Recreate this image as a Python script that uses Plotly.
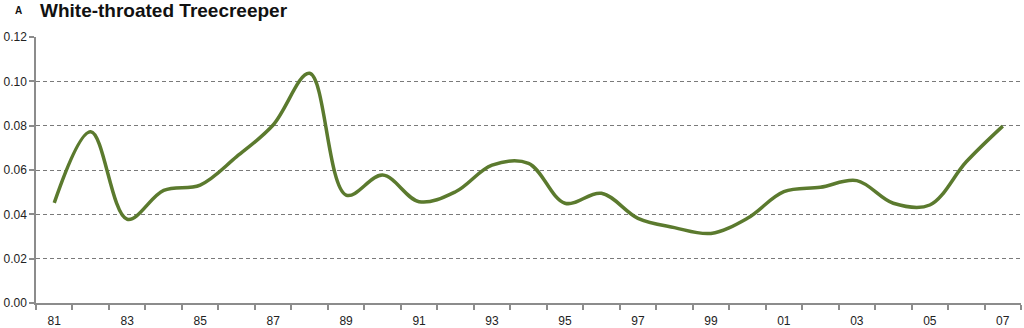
import plotly.graph_objects as go

years = ["81", "82", "83", "84", "85", "86", "87", "88", "89", "90", "91", "92", "93", "94",
         "95", "96", "97", "98", "99", "00", "01", "02", "03", "04", "05", "06", "07"]
values = [0.0452, 0.0773, 0.0378, 0.0508, 0.0532, 0.0660, 0.0803, 0.1036, 0.0487, 0.0577,
          0.0457, 0.0502, 0.0622, 0.0630, 0.0450, 0.0495, 0.0382, 0.0340, 0.0314, 0.0382,
          0.0502, 0.0522, 0.0552, 0.0450, 0.0442, 0.0637, 0.0798]
y_ticks = [0.00, 0.02, 0.04, 0.06, 0.08, 0.10, 0.12]
title = "White-throated Treecreeper"
panel = "A"

idx = list(range(len(years)))

fig = go.Figure()
fig.add_trace(go.Scatter(
    x=idx, y=values, mode="lines",
    line=dict(color="#5b7a2e", width=3.5, shape="spline", smoothing=1.0),
    hoverinfo="skip", showlegend=False,
))

fig.update_layout(
    width=1024, height=328,
    margin=dict(l=36, r=3, t=37, b=25),
    paper_bgcolor="white", plot_bgcolor="white",
    font=dict(family="Liberation Sans, Arial, sans-serif", size=12, color="#222"),
    xaxis=dict(
        range=[-0.5, len(years) - 0.5], automargin=False,
        tickvals=idx[::2], ticktext=years[::2],
        ticks="", showgrid=False, zeroline=False,
        showline=True, linecolor="#8c8c8c", linewidth=1.5,
        tickfont=dict(size=12, color="#222"), ticklabelstandoff=6,
        minor=dict(tickvals=[i - 0.5 for i in idx] + [len(years) - 0.5],
                   ticks="outside", ticklen=5, tickcolor="#8c8c8c", tickwidth=1.5,
                   showgrid=False),
    ),
    yaxis=dict(
        range=[0, 0.12], tickvals=y_ticks, tickformat=".2f", automargin=False,
        ticks="outside", ticklen=5, tickcolor="#8c8c8c", tickwidth=1.5,
        showline=True, linecolor="#8c8c8c", linewidth=1.5,
        showgrid=True, gridcolor="#7a7a7a", gridwidth=1, griddash="4px,3px",
        zeroline=False, tickfont=dict(size=12, color="#222"),
    ),
    annotations=[
        dict(text="<b>" + panel + "</b>", x=13, y=11, xref="paper", yref="paper",
             showarrow=False, xanchor="left", yanchor="middle",
             font=dict(size=10, color="#111")),
        dict(text="<b>" + title + "</b>", x=38, y=10.5, xref="paper", yref="paper",
             showarrow=False, xanchor="left", yanchor="middle",
             font=dict(size=19, color="#111")),
    ],
)

# convert annotation pixel positions into paper coordinates
pw = 1024 - 36 - 3
ph = 328 - 37 - 25
for a in fig.layout.annotations:
    px, py = a.x, a.y
    a.x = (px - 36) / pw
    a.y = 1 + (37 - py) / ph

fig.write_html("out.html")
